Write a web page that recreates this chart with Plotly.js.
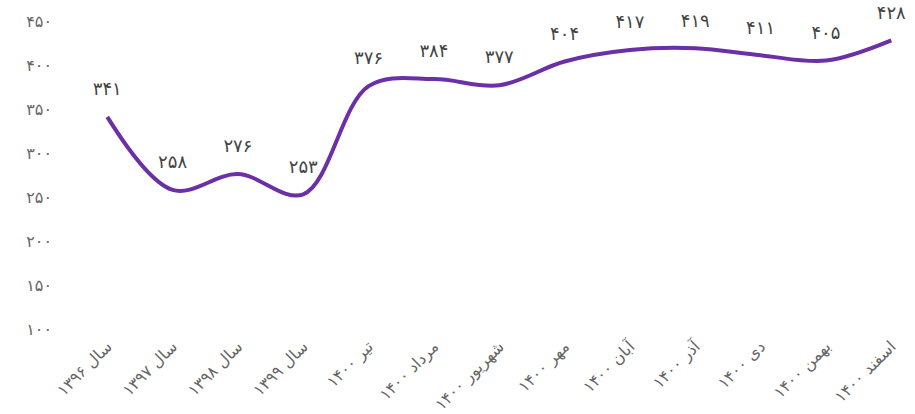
<!DOCTYPE html>
<html>
<head>
<meta charset="utf-8">
<script src="https://cdn.plot.ly/plotly-3.0.1.min.js"></script>
<style>
  html, body { margin: 0; padding: 0; background: #fff; }
  #chart { width: 915px; height: 414px; }
</style>
</head>
<body>
<div id="chart"></div>
<script>
const periods = [
    'سال ۱۳۹۶', 'سال ۱۳۹۷', 'سال ۱۳۹۸', 'سال ۱۳۹۹',
    'تیر ۱۴۰۰', 'مرداد ۱۴۰۰', 'شهریور ۱۴۰۰', 'مهر ۱۴۰۰',
    'آبان ۱۴۰۰', 'آذر ۱۴۰۰', 'دی ۱۴۰۰', 'بهمن ۱۴۰۰', 'اسفند ۱۴۰۰'
];
const values = [341, 258, 276, 253, 376, 384, 377, 404, 417, 419, 411, 405, 428];
const yTicks = [100, 150, 200, 250, 300, 350, 400, 450];

function toPersian(n) {
    return String(n).replace(/[0-9]/g, d => '۰۱۲۳۴۵۶۷۸۹'[d]);
}

const font = 'DejaVu Sans, sans-serif';

const trace = {
    x: periods,
    y: values,
    type: 'scatter',
    mode: 'lines+markers+text',
    line: {color: '#6b2fa6', width: 4, shape: 'spline', smoothing: 1},
    marker: {size: 26, opacity: 0, color: '#6b2fa6'},
    text: values.map(toPersian),
    textposition: 'top center',
    textfont: {family: font, size: 18, color: '#444'},
    hoverinfo: 'none',
    cliponaxis: false,
};

const layout = {
    width: 915,
    height: 414,
    margin: {l: 55, r: 10, t: 21, b: 85},
    showlegend: false,
    paper_bgcolor: '#fff',
    plot_bgcolor: '#fff',
    xaxis: {
        type: 'category',
        range: [-0.8, 12.21],
        showgrid: false,
        zeroline: false,
        showline: false,
        tickangle: -45,
        tickfont: {family: font, size: 16, color: '#666'},
        ticklabelstandoff: 4,
    },
    yaxis: {
        range: [100, 450],
        showgrid: false,
        zeroline: false,
        showline: false,
        tickvals: yTicks,
        ticktext: yTicks.map(toPersian),
        tickfont: {family: font, size: 16, color: '#666'},
        ticklabelstandoff: 2,
    },
};

Plotly.newPlot('chart', [trace], layout, {displayModeBar: false, staticPlot: true});
</script>
</body>
</html>
